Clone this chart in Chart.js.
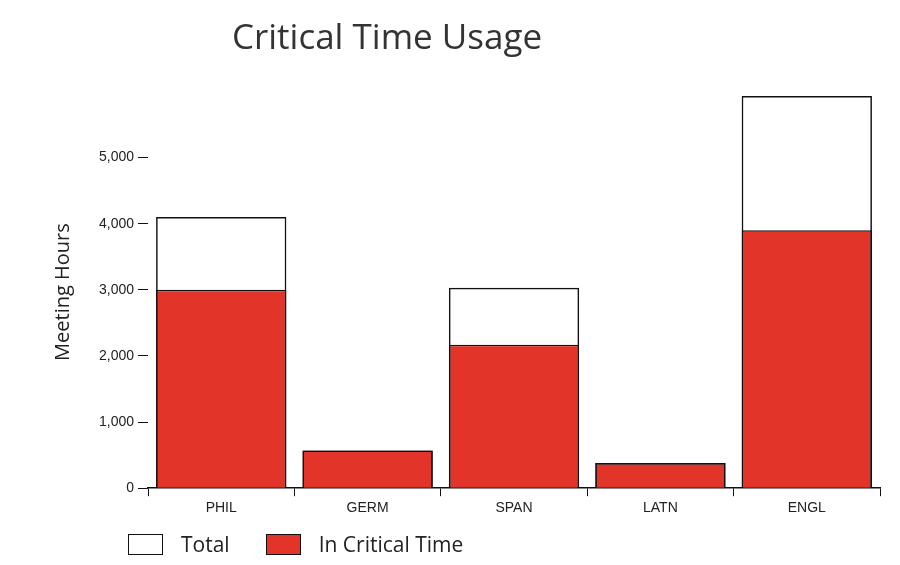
<!DOCTYPE html>
<html><head><meta charset="utf-8">
<script src="https://cdn.jsdelivr.net/npm/chart.js@4"></script>
<style>
html,body{margin:0;padding:0;background:#fff;}
#wrap{position:relative;width:900px;height:565px;}
#title{position:absolute;left:0;width:774px;top:12px;text-align:center;font-family:"Open Sans",sans-serif;font-weight:500;font-size:35px;color:#333;margin:0;}
#c{position:absolute;left:0;top:0;}
#legend{position:absolute;left:128px;top:530px;font-family:"Open Sans",sans-serif;font-size:21px;color:#222;display:flex;align-items:center;}
.box{display:inline-block;width:33px;height:19px;border:1.5px solid #111;margin-right:18px;}
.item{display:flex;align-items:center;margin-right:36px;}
</style></head><body>
<div id="wrap"><canvas id="c" width="900" height="565"></canvas><h1 id="title">Critical Time Usage</h1>
<div id="legend"><span class="item"><span class="box" style="background:#fff"></span>Total</span><span class="item"><span class="box" style="background:#e23428"></span>In Critical Time</span></div></div>
<script>
const categories = ["PHIL","GERM","SPAN","LATN","ENGL"];
const totalHours = [4100, 570, 3030, 380, 5930];
const criticalHours = [3000, 570, 2170, 380, 3900];
const yTicks = [0,1000,2000,3000,4000,5000];

new Chart(document.getElementById('c'), {
  type: 'bar',
  data: {
    labels: categories,
    datasets: [
      {label:'Total', data: totalHours, backgroundColor:'rgba(255,255,255,0)', borderColor:'#111', borderWidth:1.5, order:0, grouped:false},
      {label:'In Critical Time', data: criticalHours, backgroundColor:'#e23428', borderColor:'#111', borderWidth:1.5, order:1, grouped:false}
    ]
  },
  options: {
    responsive:false, animation:false,
    layout:{padding:{top:96,right:20,left:47,bottom:44}},
    datasets:{bar:{barPercentage:0.89, categoryPercentage:1}},
    plugins:{tooltip:{enabled:false}, legend:{display:false}, title:{display:false}},
    scales:{
      x:{grid:{display:true, drawOnChartArea:false, tickLength:8, color:'#111', offset:true},
         border:{display:true,color:'#111',width:1.5},
         ticks:{color:'#222', font:{family:'Liberation Sans', size:14}, padding:4}},
      y:{min:0, max:5930,
         afterBuildTicks:(ax)=>{ax.ticks = yTicks.map(v=>({value:v}));},
         grid:{display:true, drawOnChartArea:false, tickLength:10, color:'#111'},
         border:{display:false},
         ticks:{color:'#222', font:{family:'Liberation Sans', size:14}, padding:4,
           callback:(v)=>v.toLocaleString('en-US')},
         title:{display:true, text:'Meeting Hours', color:'#222', font:{family:'Open Sans', size:20}, padding:{bottom:20}}}
    }
  }
});
</script>
</body></html>
